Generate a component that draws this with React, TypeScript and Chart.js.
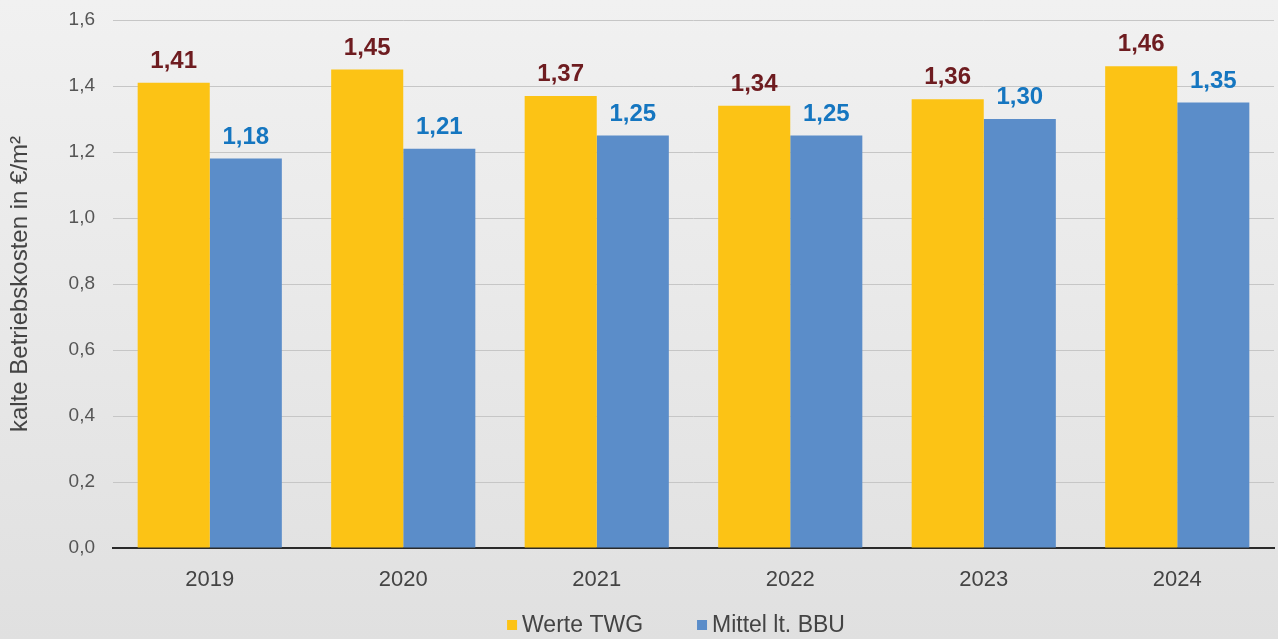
import React, { useEffect, useRef } from "react";
import { Chart, registerables } from "chart.js";

Chart.register(...registerables);

const years = ["2019", "2020", "2021", "2022", "2023", "2024"];
const werteTWG = [1.41, 1.45, 1.37, 1.34, 1.36, 1.46];
const mittelBBU = [1.18, 1.21, 1.25, 1.25, 1.3, 1.35];
const seriesNames = ["Werte TWG", "Mittel lt. BBU"];
const seriesColors = ["#fcc315", "#5b8dc9"];
const labelColors = ["#6e1c20", "#1576c0"];
const yTitle = "kalte Betriebskosten in €/m²";

const FONT = "'Liberation Sans', Arial, sans-serif";

const bgPlugin = {
  id: "bg",
  beforeDraw(chart: any) {
    const { ctx, width, height } = chart;
    const g = ctx.createLinearGradient(0, 0, 0, height);
    g.addColorStop(0, "#f1f1f1");
    g.addColorStop(1, "#e0e0e0");
    ctx.save();
    ctx.fillStyle = g;
    ctx.fillRect(0, 0, width, height);
    ctx.restore();
  },
};

const valuePlugin = {
  id: "values",
  afterDatasetsDraw(chart: any) {
    const { ctx } = chart;
    ctx.save();
    ctx.font = `bold 24px ${FONT}`;
    ctx.textAlign = "center";
    ctx.textBaseline = "alphabetic";
    chart.data.datasets.forEach((ds: any, di: number) => {
      const meta = chart.getDatasetMeta(di);
      ctx.fillStyle = labelColors[di];
      meta.data.forEach((el: any, i: number) => {
        const v = ds.data[i] as number;
        ctx.fillText(v.toFixed(2).replace(".", ","), el.x, el.y - 15);
      });
    });
    ctx.restore();
  },
};

// Legend drawn on the canvas at the bottom
const legendPlugin = {
  id: "bottomLegend",
  afterDraw(chart: any) {
    const { ctx } = chart;
    const fontSize = 23;
    const box = 10;
    const boxGap = 5;
    const itemGap = 54;
    const y = 625;
    const centerX = 676;
    ctx.save();
    ctx.font = `${fontSize}px ${FONT}`;
    ctx.textBaseline = "middle";
    ctx.textAlign = "left";
    const items = chart.data.datasets.map((ds: any) => ({
      text: ds.label as string,
      color: ds.backgroundColor as string,
      w: ctx.measureText(ds.label).width,
    }));
    const total =
      items.reduce((s: number, it: any) => s + box + boxGap + it.w, 0) +
      itemGap * (items.length - 1);
    let x = centerX - total / 2;
    items.forEach((it: any) => {
      ctx.fillStyle = it.color;
      ctx.fillRect(x, y - box / 2, box, box);
      x += box + boxGap;
      ctx.fillStyle = "#444";
      ctx.fillText(it.text, x, y + 1);
      x += it.w + itemGap;
    });
    ctx.restore();
  },
};

export default function App() {
  const ref = useRef<HTMLCanvasElement>(null);
  useEffect(() => {
    const chart = new Chart(ref.current!, {
      type: "bar",
      data: {
        labels: years,
        datasets: [
          { label: seriesNames[0], data: werteTWG, backgroundColor: seriesColors[0] },
          { label: seriesNames[1], data: mittelBBU, backgroundColor: seriesColors[1] },
        ],
      },
      options: {
        animation: false,
        responsive: false,
        maintainAspectRatio: false,
        layout: { padding: { top: 20, right: 4, left: 0, bottom: 46 } },
        datasets: {
          bar: { categoryPercentage: 0.745, barPercentage: 1 },
        },
        plugins: {
          legend: { display: false },
          tooltip: { enabled: false },
        },
        scales: {
          x: {
            afterFit(scale: any) {
              scale.height = 45;
              scale.paddingLeft = 0;
              scale.paddingRight = 0;
            },
            grid: { display: false, drawTicks: false },
            border: { display: true, color: "#2a2a2a", width: 2 },
            ticks: { color: "#444", font: { family: FONT, size: 22 }, padding: 19 },
          },
          y: {
            min: 0,
            max: 1.6,
            afterFit(scale: any) {
              scale.width = 113;
              scale.paddingTop = 0;
              scale.paddingBottom = 0;
            },
            ticks: {
              stepSize: 0.2,
              color: "#555",
              padding: 18,
              font: { family: FONT, size: 19 },
              callback: (v: any) => Number(v).toFixed(1).replace(".", ","),
            },
            grid: {
              color: "#c6c6c6",
              lineWidth: 1,
              drawTicks: false,
            },
            border: { display: false },
            title: {
              display: true,
              text: yTitle,
              color: "#444",
              font: { family: FONT, size: 24 },
              padding: { top: 6, bottom: 0 },
            },
          },
        },
      },
      plugins: [bgPlugin, valuePlugin, legendPlugin],
    });
    return () => chart.destroy();
  }, []);
  return (
    <div style={{ position: "fixed", left: 0, top: 0, width: 1278, height: 639 }}>
      <canvas ref={ref} width={1278} height={639} style={{ display: "block" }} />
    </div>
  );
}
